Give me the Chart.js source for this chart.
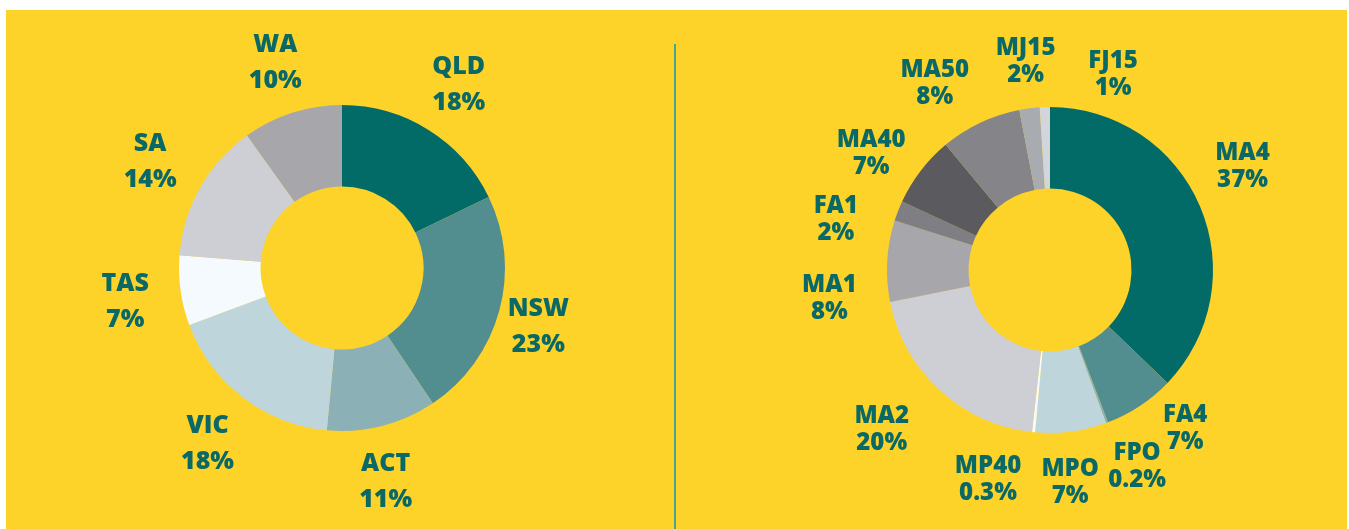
<!DOCTYPE html>
<html>
<head>
<meta charset="utf-8">
<script src="https://cdn.jsdelivr.net/npm/chart.js@4"></script>
<style>
  html, body { margin: 0; padding: 0; background: #fff; }
  body { width: 1349px; height: 529px; overflow: hidden; position: relative; }
  .panel { position: absolute; left: 6px; top: 10px; right: 2px; bottom: 0; background: #fdd329; }
  .divider { position: absolute; left: 674px; top: 44px; width: 2px; bottom: 0; background: #4aa58a; }
  canvas { position: absolute; top: 0; }
  #stateChart { left: 0; }
  #classChart { left: 675px; }
</style>
</head>
<body>
<div class="panel"></div>
<div class="divider"></div>
<canvas id="stateChart" width="675" height="529"></canvas>
<canvas id="classChart" width="674" height="529"></canvas>

<script>
// left donut: share by state
const stateLabels = ['QLD', 'NSW', 'ACT', 'VIC', 'TAS', 'SA', 'WA'];
const stateValues = [18, 23, 11, 18, 7, 14, 10];

// right donut: share by class
const classLabels = ['MA4', 'FA4', 'FPO', 'MPO', 'MP40', 'MA2', 'MA1', 'FA1', 'MA40', 'MA50', 'MJ15', 'FJ15'];
const classValues = [37, 7, 0.2, 7, 0.3, 20, 8, 2, 7, 8, 2, 1];

const stateColours = ['#036b67', '#528d8f', '#8bb1b6', '#bfd5dc', '#f5fafe', '#cdcfd4', '#a6a6ab'];
const classColours = ['#036b67', '#528d8f', '#8bb1b6', '#bfd5dc', '#f8fbfd', '#cdcfd4', '#a6a6ab',
                      '#7e7e84', '#5b5a5f', '#858489', '#a8abb0', '#d2d6da'];

// hand-placed label tweaks (px) on top of the radial position
const stateNudges = [[1, 0], [-14, 0], [-10, 1], [-2, 1], [-1, 2], [-2, -1], [0, 0]];
const classNudges = [[-8, -20], [15, -25], [11, -9], [-8, -5], [-40, -9], [-21, -3],
                     [-3, 39], [-11, 27], [-6, 15], [-22, 9], [3, 6], [70, 21]];

const TEXT = '#0a6966';
const FONT = '"Open Sans", sans-serif';

function outsideLabels(cfg) {
  return {
    id: 'outsideLabels',
    afterDatasetsDraw(chart) {
      const ctx = chart.ctx;
      const meta = chart.getDatasetMeta(0);
      const values = chart.data.datasets[0].data;
      const capH = cfg.size * 0.72;
      ctx.save();
      ctx.fillStyle = TEXT;
      ctx.font = `800 ${cfg.size}px ${FONT}`;
      ctx.textAlign = 'center';
      ctx.textBaseline = 'alphabetic';
      meta.data.forEach((arc, i) => {
        const p = arc.getProps(['x', 'y', 'startAngle', 'endAngle', 'outerRadius'], true);
        const mid = (p.startAngle + p.endAngle) / 2;
        const r = p.outerRadius * cfg.distance;
        const n = cfg.nudges[i] || [0, 0];
        const x = p.x + Math.cos(mid) * r + n[0];
        const y = p.y + Math.sin(mid) * r + n[1];
        ctx.fillText(chart.data.labels[i], x, y - cfg.gap / 2 + capH / 2);
        ctx.fillText(values[i] + '%', x, y + cfg.gap / 2 + capH / 2);
      });
      ctx.restore();
    }
  };
}

function donut(id, labels, values, colours, padding, labelCfg) {
  new Chart(document.getElementById(id), {
    type: 'doughnut',
    data: {
      labels: labels,
      datasets: [{
        data: values,
        backgroundColor: colours,
        borderWidth: 0
      }]
    },
    options: {
      responsive: false,
      animation: false,
      cutout: '50%',
      layout: { padding: padding },
      plugins: {
        legend: { display: false },
        tooltip: { enabled: false }
      }
    },
    plugins: [outsideLabels(labelCfg)]
  });
}

donut('stateChart', stateLabels, stateValues, stateColours,
  { left: 179, right: 170, top: 105, bottom: 98 },
  { size: 25, gap: 36, distance: 1.337, nudges: stateNudges });

donut('classChart', classLabels, classValues, classColours,
  { left: 212, right: 136, top: 107, bottom: 96 },
  { size: 24, gap: 27, distance: 1.337, nudges: classNudges });
</script>
</body>
</html>
